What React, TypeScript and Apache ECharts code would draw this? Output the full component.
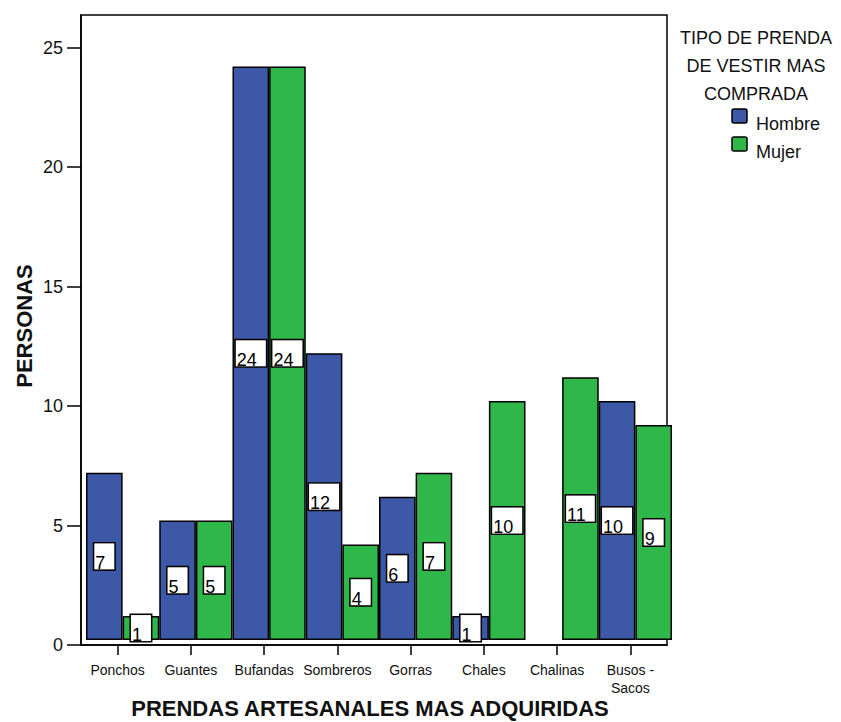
import React, { useEffect, useRef } from 'react';
import * as echarts from 'echarts';

// Clothing categories on the x axis
const categories = ['Ponchos', 'Guantes', 'Bufandas', 'Sombreros', 'Gorras', 'Chales', 'Chalinas', 'Busos -\nSacos'];
// Series (buyer type)
const seriesNames = ['Hombre', 'Mujer'];
const hombre: (number | null)[] = [7, 5, 24, 12, 6, 1, null, 10];
const mujer: (number | null)[] = [1, 5, 24, 4, 7, 10, 11, 9];
// Y axis tick values
const yTicks = [0, 5, 10, 15, 20, 25];

const legendTitle = 'TIPO DE PRENDA\nDE VESTIR MAS\nCOMPRADA';
const xTitle = 'PRENDAS ARTESANALES MAS ADQUIRIDAS';
const yTitle = 'PERSONAS';

const colors = ['#3E58A8', '#2FB74A'];
const FONT = '"Liberation Sans", Arial, sans-serif';

export default function App() {
  const ref = useRef<HTMLDivElement>(null);

  useEffect(() => {
    if (!ref.current) return;
    const chart = echarts.init(ref.current, null, { renderer: 'svg' });
    const seriesData = [hombre, mujer];

    const legendGraphics: any[] = [];
    seriesNames.forEach((name, i) => {
      const cy = 116 + i * 28;
      legendGraphics.push({
        type: 'rect',
        shape: { x: 732, y: cy - 7, width: 15, height: 14, r: 2 },
        style: { fill: colors[i], stroke: '#000', lineWidth: 1.5 },
      });
      legendGraphics.push({
        type: 'text',
        x: 756,
        y: cy + 8,
        style: {
          text: name,
          font: `18px ${FONT}`,
          fill: '#111',
          textAlign: 'left',
          textVerticalAlign: 'middle',
        },
      });
    });

    chart.setOption({
      animation: false,
      backgroundColor: '#fff',
      textStyle: { fontFamily: FONT },
      grid: [
        { left: 81, right: 174, top: 15, bottom: 77, show: true, borderColor: '#000', borderWidth: 1.5, backgroundColor: 'transparent' },
        { left: 86, right: 169, top: 15, bottom: 82 },
      ],
      xAxis: [
        {
          type: 'category',
          gridIndex: 0,
          data: categories,
          boundaryGap: true,
          axisLine: { show: true, lineStyle: { color: '#000', width: 1.5 } },
          axisTick: { show: true, alignWithLabel: true, length: 10, lineStyle: { color: '#000', width: 1.5 } },
          axisLabel: { interval: 0, fontSize: 14, margin: 16, lineHeight: 18, color: '#111', fontFamily: FONT },
          splitLine: { show: false },
        },
        {
          type: 'category',
          gridIndex: 1,
          data: categories,
          boundaryGap: true,
          show: false,
        },
      ],
      yAxis: [
        {
          type: 'value',
          gridIndex: 0,
          min: 0,
          max: 26.37,
          axisLine: { show: true, lineStyle: { color: '#000', width: 1.5 } },
          axisTick: { show: true, length: 14, customValues: yTicks, lineStyle: { color: '#000', width: 1.5 } },
          axisLabel: { customValues: yTicks, fontSize: 18, margin: 18, color: '#111', fontFamily: FONT },
          splitLine: { show: false },
        },
        {
          type: 'value',
          gridIndex: 1,
          min: 0,
          max: 26.16,
          show: false,
          splitLine: { show: false },
        },
      ],
      series: seriesNames.map((name, i) => ({
        type: 'bar',
        name,
        xAxisIndex: 1,
        yAxisIndex: 1,
        data: seriesData[i],
        barGap: '0%',
        barCategoryGap: '0%',
        itemStyle: { color: colors[i], borderColor: '#000', borderWidth: 1.5 },
        label: {
          show: true,
          position: 'inside',
          formatter: '{c}',
          color: '#000',
          fontSize: 18,
          fontFamily: FONT,
          lineHeight: 13,
          verticalAlign: 'top',
          offset: [0, -13],
          backgroundColor: '#fff',
          borderColor: '#000',
          borderWidth: 1.5,
          padding: [13, 9, 0, 1],
        },
      })),
      graphic: [
        {
          type: 'text',
          x: 24,
          y: 326,
          rotation: Math.PI / 2,
          style: {
            text: yTitle,
            font: `bold 22px ${FONT}`,
            fill: '#111',
            textAlign: 'center',
            textVerticalAlign: 'middle',
          },
        },
        {
          type: 'text',
          x: 370,
          y: 708,
          style: {
            text: xTitle,
            font: `bold 22px ${FONT}`,
            fill: '#111',
            textAlign: 'center',
            textVerticalAlign: 'middle',
          },
        },
        {
          type: 'text',
          x: 756,
          y: 66,
          style: {
            text: legendTitle,
            font: `18px ${FONT}`,
            lineHeight: 28,
            fill: '#111',
            textAlign: 'center',
            textVerticalAlign: 'middle',
          },
        },
        ...legendGraphics,
      ],
    });

    return () => chart.dispose();
  }, []);

  return <div ref={ref} style={{ position: 'fixed', left: 0, top: 0, width: 841, height: 722 }} />;
}
